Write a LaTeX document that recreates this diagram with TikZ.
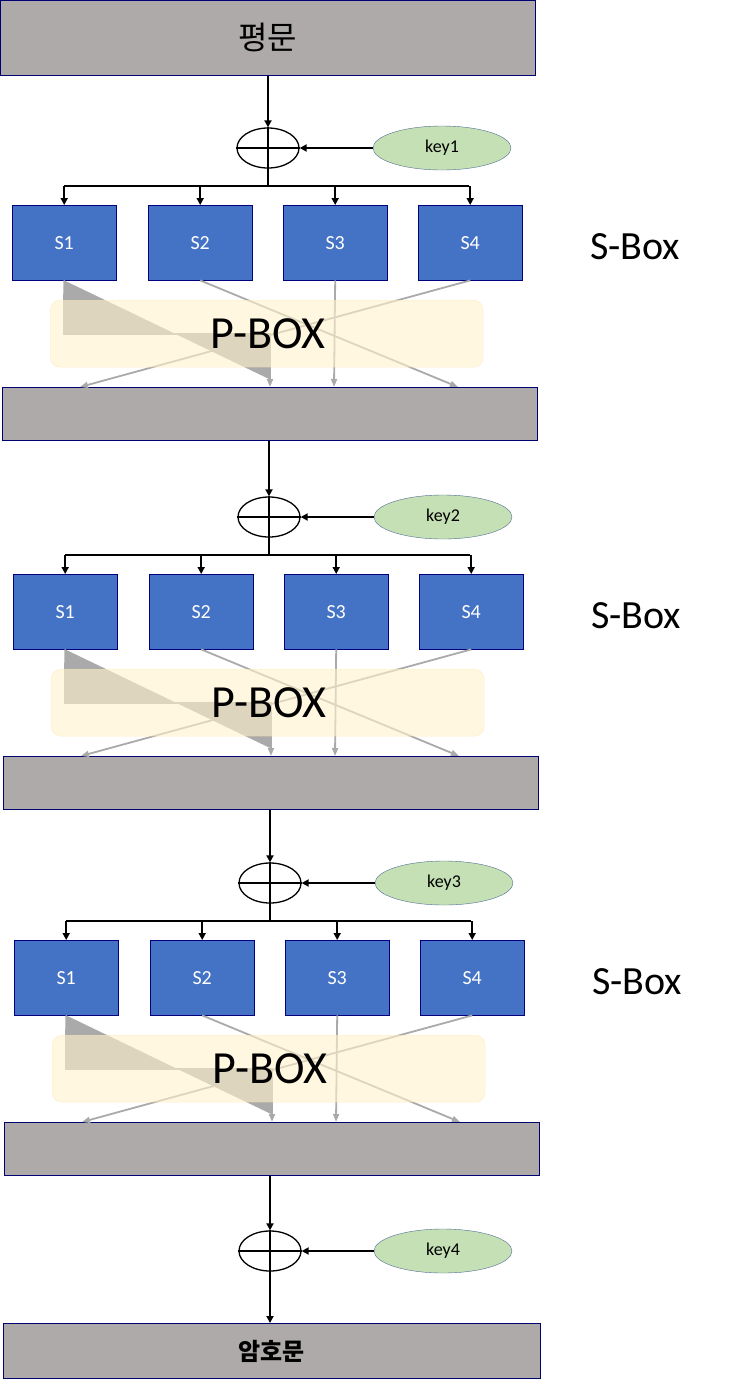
\documentclass[tikz,border=0pt]{standalone}
\usepackage{fontspec}
\setmainfont{Carlito}
\newfontfamily\kr{Noto Sans CJK KR}
\usetikzlibrary{arrows.meta,shapes.geometric}
\begin{document}
\begin{tikzpicture}[x=1pt,y=-1pt,
  bar/.style={draw=blue!45!black,line width=0.8pt,anchor=north west,inner sep=0pt},
  sb/.style={draw=blue!50!black,fill={rgb,255:red,68;green,114;blue,196},minimum width=104pt,minimum height=75pt,anchor=north west,text=white,font=\fontsize{20}{22}\selectfont,inner sep=0pt},
  xo/.style={draw,ellipse,minimum width=62pt,minimum height=40pt,inner sep=0pt,line width=1.3pt},
  key/.style={draw={rgb,255:red,80;green,110;blue,150},fill={rgb,255:red,197;green,224;blue,180},ellipse,minimum width=138pt,minimum height=44pt,inner sep=0pt,font=\fontsize{18}{20}\selectfont},
  blk/.style={-{Triangle[length=7pt,width=7pt]},line width=1.8pt},
  gr/.style={-{Triangle[length=8pt,width=6pt]},line width=1.8pt,draw={rgb,255:red,170;green,170;blue,170},fill={rgb,255:red,170;green,170;blue,170}},
  pbox/.style={rounded corners=10pt,draw={rgb,255:red,255;green,225;blue,150},fill={rgb,255:red,255;green,242;blue,204},fill opacity=0.6,draw opacity=0.5,minimum width=433pt,minimum height=67pt,anchor=north west,inner sep=0pt},
]
\useasboundingbox (0,0) rectangle (743,1385);
\fill[white] (0,0) rectangle (743,1385);
\definecolor{bargray}{RGB}{174,170,170}
\node[bar,fill=bargray,minimum width=535pt,minimum height=75pt] (p0) at (0,0) {};
\node[font=\kr\fontsize{32}{34}\selectfont] at (p0.center) {평문};
\foreach \r/\o/\dx in {1/0/0,2/369/1,3/735/2}{
  \begin{scope}[yshift=-\o pt,xshift=\dx*1pt]
  \node[xo] (x\r) at (268,148) {};
  \draw[line width=1.3pt] (x\r.north)--(x\r.south) (x\r.west)--(x\r.east);
  \node[key] (k\r) at (442,148) {key\r};
  \draw[blk] (k\r.west) -- (x\r.east);
  \coordinate (b\r) at (268,186);
  \node[sb] (sa\r) at (12,205) {S1};
  \node[sb] (sbb\r) at (148,205) {S2};
  \node[sb] (sc\r) at (283,205) {S3};
  \node[sb] (sd\r) at (418,205) {S4};
  \draw[line width=1.8pt] (x\r.south) -- (b\r);
  \draw[line width=1.8pt] (64,186) -- (469,186);
  \foreach \n in {sa\r,sbb\r,sc\r,sd\r}{ \draw[blk] (\n.north |- b\r) -- (\n.north); }
  \node[bar,fill=bargray,minimum width=535pt,minimum height=53pt] (q\r) at (2,387) {};
  \draw[gr] (sa\r.south) -- (64,334) -- (270,334) -- (270,387);
  \draw[gr] (sbb\r.south) -- (458,387);
  \draw[gr] (sc\r.south) -- (334,387);
  \draw[gr] (sd\r.south) -- (80,387);
  \node[pbox] (pb\r) at (50,300) {};
  \node[font=\fontsize{46}{50}\selectfont] (pt\r) at (268,334) {P-BOX};
  \node[font=\fontsize{40}{44}\selectfont] (st\r) at (635,247) {S-Box};
  \end{scope}
}
\draw[blk] (p0.south -| x1.north) -- (x1.north);
\draw[blk] (q1.south -| x2.north) -- (x2.north);
\draw[blk] (q2.south -| x3.north) -- (x3.north);
\node[xo] (x4) at (270,1251) {};
\draw[line width=1.3pt] (x4.north)--(x4.south) (x4.west)--(x4.east);
\node[key] (k4) at (443,1251) {key4};
\draw[blk] (k4.west) -- (x4.east);
\draw[blk] (q3.south -| x4.north) -- (x4.north);
\node[bar,fill=bargray,minimum width=537pt,minimum height=55pt] (c) at (3,1323) {};
\node[font=\kr\bfseries\fontsize{24}{26}\selectfont] at (c.center) {암호문};
\draw[blk] (x4.south) -- (c.north -| x4.south);
\end{tikzpicture}
\end{document}
